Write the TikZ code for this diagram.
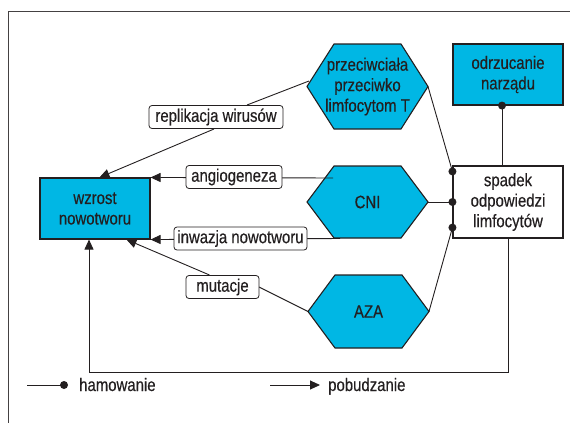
\documentclass[tikz,border=0pt]{standalone}
\usepackage{fontspec}
\setmainfont{Liberation Sans}[FakeStretch=0.83,FakeBold=0.4]
\usetikzlibrary{arrows.meta,calc}
\definecolor{cy}{RGB}{0,183,228}
\definecolor{ink}{RGB}{35,31,32}
\newcommand\myhex[5]{%
  \draw[hexa] (#2-60.5,#3) -- (#2-33.5,#3-#4) -- (#2+33.5,#3-#4) -- (#2+60.5,#3)
     -- (#2+33.5,#3+#4) -- (#2-33.5,#3+#4) -- cycle;
  \coordinate (#1-l) at (#2-60.5,#3);
  \coordinate (#1-r) at (#2+60.5,#3);
  \node[hextext] (#1) at (#2,#3) {#5};}
\begin{document}
\begin{tikzpicture}[x=1pt,y=-1pt,
  font=\fontsize{18}{20.5}\selectfont, text=ink,
  box/.style={draw=ink, line width=1.1pt, minimum width=110pt, inner sep=0pt, align=center},
  cbox/.style={box, fill=cy},
  hexa/.style={draw=ink, line width=1.1pt, fill=cy, line join=miter},
  hextext/.style={inner sep=0pt, align=center},
  lab/.style={draw=ink, line width=0.8pt, fill=white, rounded corners=3pt, minimum height=23pt, inner sep=0pt},
  con/.style={draw=ink, line width=0.9pt},
  arr/.style={con, -{Triangle[length=10pt,width=9pt]}},
  legtext/.style={inner sep=0pt, anchor=base west}]
\useasboundingbox (0,0) rectangle (570,423);
\draw[ink!85, line width=1pt] (570,11) -- (8.5,11) -- (8.5,423);

% boxes
\node[cbox, minimum height=61pt] (wzrost) at (95,208.5) {wzrost\\nowotworu};
\node[cbox, minimum height=61pt] (odrz) at (508,74.5) {odrzucanie\\narządu};
\node[box, fill=white, minimum height=72pt] (spadek) at (508,202) {spadek\\odpowiedzi\\limfocytów};

% hexagons
\myhex{prz}{367.5}{86.5}{42.5}{przeciwciała\\przeciwko\\limfocytom T}
\myhex{cni}{367.5}{202}{36}{CNI}
\myhex{aza}{368.5}{311.5}{36.5}{AZA}

% label positions
\coordinate (lrepC) at (216,117);
\coordinate (lmutC) at (222.5,287);

% coordinates
\coordinate (przA) at (309,81);
\coordinate (cniA) at (333,178);
\coordinate (cniB) at (340,238.5);
\coordinate (w1) at ($(wzrost.north west)+(60,0)$);
\coordinate (w3) at ($(wzrost.south west)+(87,0)$);
\coordinate (loop) at (89,372);
\coordinate (d1) at ($(spadek.north west)+(0,6)$);
\coordinate (d3) at ($(spadek.south west)+(0,-11)$);
\coordinate (d4) at ($(odrz.south)+(-6,0)$);

% excitatory connectors
\draw[con] (przA) -- ($(lrepC)+(31,-12)$);
\draw[arr] ($(lrepC)+(-2,12)$) -- (w1);
\draw[arr] (cniA) -- (wzrost.north east);
\draw[arr] (cniB) -- (wzrost.south east);
\draw[con] (aza-l) -- ($(lmutC)+(36.5,0)$);
\draw[arr] ($(lmutC)+(-13,-12)$) -- (w3);
\draw[arr] (spadek.south) |- (loop) -- (loop |- wzrost.south);

% inhibitory connectors
\draw[con] (prz-r) -- (d1);
\draw[con] (cni-r) -- (spadek.west);
\draw[con] (aza-r) -- (d3);
\draw[con] (d4) -- (d4 |- spadek.north);
\fill[ink] (d1) circle (4pt);
\fill[ink] (spadek.west) circle (4pt);
\fill[ink] (d3) circle (4pt);
\fill[ink] (d4) circle (4pt);

% labels
\node[lab, minimum width=134pt] (lrep) at (lrepC) {replikacja wirusów};
\node[lab, minimum width=96pt] (lang) at (234,177) {angiogeneza};
\node[lab, minimum width=133pt] (linw) at (240.5,238.5) {inwazja nowotworu};
\node[lab, minimum width=73pt] (lmut) at (lmutC) {mutacje};

% legend
\coordinate (h0) at (27,385);
\coordinate (h1) at (64,385);
\draw[con] (h0) -- (h1);
\fill[ink] (h1) circle (4pt);
\node[legtext] (ham) at (79,391) {hamowanie};
\coordinate (p0) at (270,385);
\coordinate (p1) at (320,385);
\draw[arr] (p0) -- (p1);
\node[legtext] (pob) at (328,391) {pobudzanie};
\end{tikzpicture}
\end{document}
